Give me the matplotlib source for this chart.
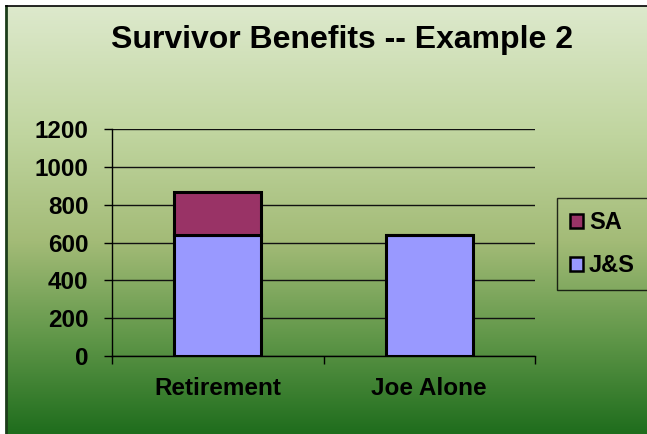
import matplotlib.pyplot as plt
import numpy as np
from matplotlib.colors import LinearSegmentedColormap

plt.rcParams['font.family'] = ['Liberation Sans', 'DejaVu Sans']
plt.rcParams['font.weight'] = 'bold'

## data
categories = ['Retirement', 'Joe Alone']
js = [640, 640]
sa = [225, 0]
yticks = [0, 200, 400, 600, 800, 1000, 1200]

W, H = 647, 434
fig = plt.figure(figsize=(W / 100, H / 100), dpi=100)
fig.patch.set_facecolor('white')

## background gradient
bg = fig.add_axes([6 / W, 0, (W - 6) / W, (H - 6) / H])
stops = [(0.0, '#dde9cc'), (0.3, '#c0d59f'), (0.55, '#a3bb77'),
         (0.78, '#5f9648'), (1.0, '#1f6d1d')]
cmap = LinearSegmentedColormap.from_list('bg', stops)
grad = np.linspace(0, 1, 256).reshape(-1, 1)
bg.imshow(grad, aspect='auto', cmap=cmap, extent=[0, 1, 0, 1], origin='upper')
bg.set_xticks([])
bg.set_yticks([])
for s in ['right', 'bottom']:
    bg.spines[s].set_visible(False)
bg.spines['left'].set_color('#1c3d1a')
bg.spines['left'].set_linewidth(2)
bg.spines['top'].set_color('black')
bg.spines['top'].set_linewidth(1.2)

## plot area
ax = fig.add_axes([112 / W, 1 - 356 / H, 423 / W, 227 / H])
ax.set_facecolor('none')
x = np.arange(len(categories))
bw = 0.41
b1 = ax.bar(x, js, bw, color='#9999ff', edgecolor='black', linewidth=2.2, label='J&S', zorder=3)
b2 = ax.bar(x, sa, bw, bottom=js, color='#993366', edgecolor='black', linewidth=2.2, label='SA', zorder=3)

ax.set_ylim(0, 1200)
ax.set_xlim(-0.5, len(categories) - 0.5)
ax.set_yticks(yticks)
ax.yaxis.grid(True, color='#111111', linewidth=1)
ax.set_axisbelow(True)
ax.tick_params(axis='y', length=6, width=1, pad=11, labelsize=17.5)

ax.set_xticks(np.arange(len(categories) + 1) - 0.5)
ax.set_xticklabels([])
ax.set_xticks(x, minor=True)
ax.set_xticklabels(categories, minor=True)
ax.tick_params(axis='x', which='major', length=6, width=1)
ax.tick_params(axis='x', which='minor', length=0, pad=15, labelsize=17.5)

for s in ['top', 'right']:
    ax.spines[s].set_visible(False)
for s in ['left', 'bottom']:
    ax.spines[s].set_linewidth(1)

fig.text(342 / W, 1 - 40 / H, 'Survivor Benefits -- Example 2', ha='center', va='center',
         fontsize=23, fontweight='bold')

leg = ax.legend(handles=[b2, b1], loc='upper left', bbox_to_anchor=(557 / W, 1 - 198 / H),
                bbox_transform=fig.transFigure, fontsize=17, frameon=True, fancybox=False,
                handlelength=0.55, handleheight=0.55, handletextpad=0.25,
                labelspacing=0.85, borderpad=0.55, borderaxespad=0)
leg.get_frame().set_edgecolor('black')
leg.get_frame().set_facecolor('none')
leg.get_frame().set_linewidth(1)
for h in leg.legend_handles:
    h.set_linewidth(1.8)

fig.savefig('out.png', dpi=100)
